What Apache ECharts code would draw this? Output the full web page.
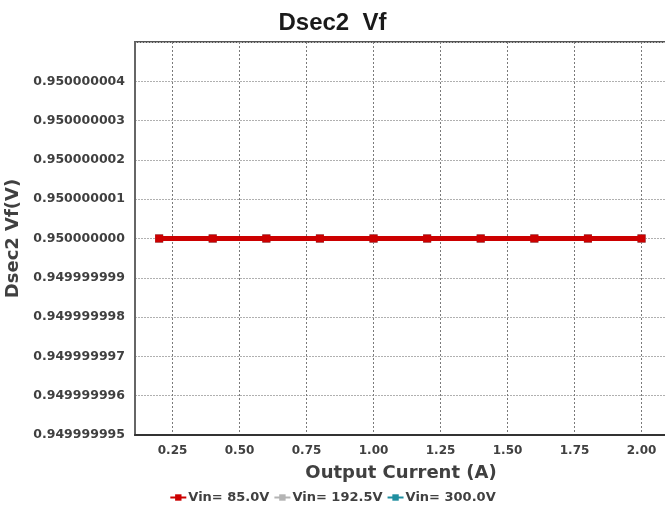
<!DOCTYPE html>
<html>
<head>
<meta charset="utf-8">
<script src="https://cdn.jsdelivr.net/npm/echarts@6/dist/echarts.min.js"></script>
<style>html,body{margin:0;padding:0;background:#fff;}#c{width:665px;height:513px;}</style>
</head>
<body>
<div id="c"></div>
<script>
const outputCurrent = [0.2, 0.4, 0.6, 0.8, 1.0, 1.2, 1.4, 1.6, 1.8, 2.0];
const vin85 = [0.95, 0.95, 0.95, 0.95, 0.95, 0.95, 0.95, 0.95, 0.95, 0.95];
const vin192 = [0.95, 0.95, 0.95, 0.95, 0.95, 0.95, 0.95, 0.95, 0.95, 0.95];
const vin300 = [0.95, 0.95, 0.95, 0.95, 0.95, 0.95, 0.95, 0.95, 0.95, 0.95];
const seriesNames = ['Vin= 85.0V', 'Vin= 192.5V', 'Vin= 300.0V'];
const xTicks = [0.25, 0.5, 0.75, 1.0, 1.25, 1.5, 1.75, 2.0];

const pair = arr => outputCurrent.map((x, i) => [x, arr[i]]);
const font = 'DejaVu Sans';
const txt = '#404040';

const chart = echarts.init(document.getElementById('c'), null, {renderer: 'canvas'});
chart.setOption({
  animation: false,
  backgroundColor: '#fff',
  title: {
    text: 'Dsec2  Vf',
    left: 'center',
    top: 6,
    textStyle: {fontFamily: 'Liberation Sans', fontWeight: 'bold', fontSize: 24, color: '#1a1a1a'}
  },
  grid: {left: 135, top: 42, right: -2, bottom: 78, show: true, borderColor: '#555', borderWidth: 2,
    containLabel: false, outerBoundsMode: 'none'},
  legend: {
    bottom: 4,
    left: 'center',
    itemWidth: 16,
    itemHeight: 8,
    itemGap: 4,
    data: seriesNames,
    textStyle: {fontFamily: font, fontWeight: 'bold', fontSize: 13, color: txt, padding: [0,0,0,-3]}
  },
  xAxis: {
    type: 'value',
    min: 0.11,
    max: 2.095,
    name: 'Output Current (A)',
    nameLocation: 'middle',
    nameGap: 29,
    nameTextStyle: {fontFamily: font, fontWeight: 'bold', fontSize: 18, color: txt},
    axisLine: {show: true, lineStyle: {color: '#333', width: 2}},
    axisTick: {show: false, customValues: xTicks},
    axisLabel: {customValues: xTicks, margin: 10, fontFamily: font, fontWeight: 'bold', fontSize: 12, color: txt,
      formatter: v => Number(v).toFixed(2)},
    splitLine: {show: true, lineStyle: {color: '#7a7a7a', type: [2, 2], width: 1}}
  },
  yAxis: {
    type: 'value',
    min: 0.949999995,
    max: 0.950000005,
    interval: 0.000000001,
    name: 'Dsec2 Vf(V)',
    nameLocation: 'middle',
    nameGap: 108,
    nameTextStyle: {fontFamily: font, fontWeight: 'bold', fontSize: 18, color: txt},
    axisLine: {show: true, lineStyle: {color: '#666', width: 2}},
    axisTick: {show: false},
    axisLabel: {margin: 10, fontFamily: font, fontWeight: 'bold', fontSize: 12.5, color: txt,
      formatter: (v, i) => (i === 10 ? '' : Number(v).toFixed(9))},
    splitLine: {show: true, lineStyle: {color: '#b0b0b0', type: [2, 1], width: 1}}
  },
  series: [
    {name: seriesNames[0], type: 'line', z: 5, data: pair(vin85), color: '#cc0000',
      symbol: 'rect', symbolSize: 8, lineStyle: {width: 5, color: '#cc0000'}, itemStyle: {color: '#cc0000'}},
    {name: seriesNames[1], type: 'line', z: 3, data: pair(vin192), color: '#b4b4b4',
      symbol: 'rect', symbolSize: 8, lineStyle: {width: 5, color: '#b4b4b4'}, itemStyle: {color: '#b4b4b4'}},
    {name: seriesNames[2], type: 'line', z: 2, data: pair(vin300), color: '#1f8fa0',
      symbol: 'rect', symbolSize: 8, lineStyle: {width: 5, color: '#1f8fa0'}, itemStyle: {color: '#1f8fa0'}}
  ]
});
</script>
</body>
</html>
